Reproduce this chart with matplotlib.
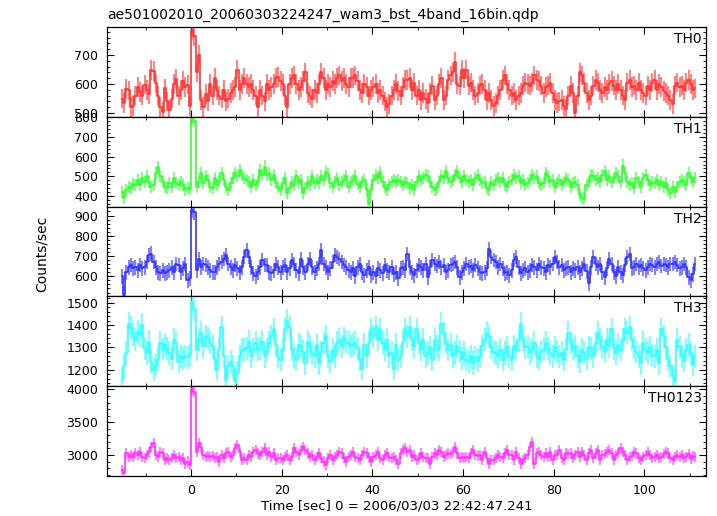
import numpy as np
import matplotlib.pyplot as plt
from matplotlib.ticker import MultipleLocator

# ==============================
# data (0.5 s bins, rate in counts/sec)
# ==============================

t_start = -15.5
bin_width = 0.5

th0 = [
    550, 535, 582, 578, 522, 525, 560, 590, 572, 560, 598, 580, 565, 648, 645, 602, 560, 520, 505, 585,
    540, 512, 550, 600, 618, 560, 580, 612, 590, 598, 525, 785, 765, 640, 700, 545, 520, 565, 540, 600,
    560, 620, 580, 560, 550, 580, 540, 550, 570, 580, 590, 650, 580, 600, 620, 600, 590, 600, 580, 560,
    520, 580, 560, 540, 600, 580, 590, 600, 620, 625, 610, 600, 560, 520, 600, 620, 630, 600, 580, 590,
    610, 640, 570, 560, 550, 580, 570, 600, 640, 620, 580, 600, 590, 610, 600, 620, 630, 610, 620, 600,
    590, 620, 620, 630, 610, 580, 570, 600, 590, 560, 580, 590, 600, 570, 580, 560, 540, 520, 530, 560,
    580, 600, 575, 560, 590, 615, 615, 620, 580, 605, 560, 580, 545, 570, 548, 535, 570, 595, 545, 560,
    600, 620, 545, 560, 615, 630, 640, 675, 600, 595, 650, 620, 650, 595, 605, 580, 560, 570, 595, 600,
    580, 545, 570, 545, 525, 535, 560, 580, 615, 630, 600, 580, 560, 570, 545, 560, 570, 595, 605, 600,
    595, 605, 630, 615, 610, 595, 570, 590, 595, 605, 570, 545, 535, 540, 545, 525, 515, 560, 595, 570,
    500, 560, 640, 630, 605, 570, 545, 560, 595, 615, 605, 580, 570, 590, 580, 600, 610, 595, 580, 600,
    580, 560, 545, 605, 615, 590, 595, 580, 605, 580, 570, 560, 595, 580, 605, 615, 580, 600, 590, 575,
    570, 560, 545, 530, 595, 605, 590, 595, 580, 605, 615, 600, 580, 585,
]

th1 = [
    420, 392, 430, 445, 440, 460, 455, 480, 455, 490, 470, 500, 470, 445, 455, 515, 548, 500, 470, 445,
    440, 465, 445, 490, 465, 455, 470, 455, 432, 440, 438, 790, 782, 445, 470, 515, 465, 500, 480, 445,
    440, 490, 455, 470, 515, 480, 445, 432, 465, 490, 515, 500, 530, 505, 490, 480, 470, 445, 480, 455,
    470, 530, 505, 550, 505, 515, 480, 505, 465, 445, 432, 465, 490, 415, 440, 470, 455, 500, 465, 480,
    415, 440, 470, 455, 500, 465, 480, 465, 500, 480, 520, 510, 465, 445, 470, 490, 455, 470, 480, 500,
    445, 470, 480, 500, 460, 445, 470, 480, 430, 360, 430, 480, 505, 490, 520, 470, 445, 430, 455, 470,
    480, 470, 480, 470, 455, 470, 465, 440, 455, 430, 470, 500, 480, 490, 505, 500, 470, 445, 430, 440,
    470, 500, 490, 525, 490, 470, 480, 505, 525, 490, 470, 500, 480, 470, 480, 455, 490, 505, 480, 465,
    470, 440, 430, 470, 455, 480, 490, 470, 490, 455, 445, 470, 480, 505, 490, 500, 465, 480, 455, 465,
    480, 505, 490, 500, 465, 455, 465, 515, 500, 470, 480, 445, 465, 480, 455, 470, 490, 480, 445, 465,
    470, 455, 405, 390, 385, 455, 470, 505, 500, 480, 490, 470, 505, 525, 480, 500, 470, 490, 515, 500,
    470, 555, 515, 470, 455, 465, 440, 490, 470, 445, 490, 505, 480, 455, 470, 465, 480, 455, 470, 445,
    465, 430, 415, 445, 420, 445, 470, 480, 470, 455, 515, 490, 470, 490,
]

th2 = [
    600, 510, 620, 645, 655, 640, 645, 630, 655, 640, 645, 670, 705, 712, 670, 645, 620, 615, 630, 615,
    620, 630, 645, 620, 660, 655, 620, 640, 660, 580, 590, 925, 915, 630, 685, 645, 660, 655, 645, 630,
    620, 620, 645, 660, 670, 685, 705, 660, 645, 630, 655, 640, 620, 645, 695, 728, 695, 645, 615, 600,
    620, 645, 680, 655, 655, 620, 615, 630, 660, 645, 620, 645, 655, 620, 640, 680, 660, 630, 615, 685,
    645, 620, 660, 685, 645, 620, 640, 660, 728, 660, 645, 620, 640, 670, 705, 695, 685, 670, 655, 645,
    630, 620, 640, 600, 645, 660, 620, 605, 630, 645, 605, 620, 600, 640, 630, 615, 655, 630, 620, 645,
    610, 620, 590, 640, 645, 630, 710, 645, 620, 605, 630, 655, 645, 630, 660, 595, 645, 680, 660, 650,
    670, 645, 655, 620, 630, 655, 660, 670, 645, 595, 620, 640, 660, 645, 650, 630, 655, 640, 620, 615,
    620, 640, 735, 695, 680, 670, 645, 660, 640, 615, 620, 605, 630, 680, 695, 645, 615, 630, 640, 620,
    630, 655, 645, 630, 660, 645, 640, 620, 655, 645, 660, 695, 670, 645, 655, 630, 640, 645, 620, 640,
    630, 645, 620, 640, 660, 625, 565, 645, 695, 660, 645, 660, 620, 595, 640, 685, 660, 620, 600, 645,
    620, 605, 655, 695, 710, 640, 645, 660, 645, 655, 640, 630, 645, 660, 655, 645, 660, 670, 650, 660,
    655, 645, 660, 660, 670, 655, 640, 645, 660, 645, 595, 580, 610, 660,
]

th3 = [
    1155, 1215, 1275, 1405, 1390, 1360, 1335, 1370, 1355, 1400, 1295, 1275, 1325, 1235, 1200, 1220, 1245, 1320, 1290, 1310,
    1295, 1275, 1250, 1335, 1320, 1235, 1260, 1250, 1260, 1255, 1265, 1505, 1470, 1290, 1335, 1365, 1305, 1350, 1340, 1320,
    1305, 1245, 1200, 1290, 1390, 1260, 1155, 1215, 1235, 1215, 1150, 1185, 1260, 1290, 1290, 1295, 1325, 1260, 1290, 1320,
    1290, 1295, 1325, 1260, 1290, 1320, 1350, 1380, 1310, 1260, 1245, 1290, 1380, 1420, 1390, 1290, 1260, 1245, 1310, 1305,
    1280, 1230, 1325, 1305, 1275, 1260, 1310, 1230, 1275, 1320, 1350, 1260, 1235, 1290, 1260, 1320, 1335, 1305, 1340, 1325,
    1320, 1305, 1310, 1320, 1295, 1245, 1205, 1310, 1260, 1320, 1380, 1350, 1390, 1335, 1380, 1320, 1290, 1335, 1260, 1275,
    1205, 1310, 1245, 1260, 1320, 1380, 1350, 1390, 1335, 1300, 1380, 1320, 1290, 1335, 1260, 1275, 1300, 1245, 1335, 1305,
    1290, 1405, 1360, 1320, 1290, 1310, 1260, 1275, 1305, 1280, 1250, 1275, 1245, 1235, 1260, 1230, 1255, 1240, 1260, 1305,
    1335, 1365, 1350, 1300, 1280, 1275, 1260, 1290, 1245, 1275, 1300, 1260, 1245, 1305, 1290, 1330, 1405, 1335, 1300, 1305,
    1275, 1290, 1320, 1260, 1250, 1280, 1290, 1320, 1295, 1275, 1260, 1300, 1280, 1260, 1275, 1245, 1290, 1365, 1320, 1290,
    1305, 1260, 1235, 1290, 1275, 1250, 1300, 1295, 1260, 1320, 1365, 1335, 1300, 1280, 1335, 1305, 1380, 1295, 1275, 1310,
    1290, 1335, 1380, 1365, 1390, 1335, 1300, 1280, 1260, 1230, 1320, 1290, 1275, 1300, 1265, 1260, 1290, 1230, 1380, 1350,
    1300, 1250, 1215, 1170, 1150, 1335, 1300, 1260, 1240, 1290, 1310, 1270, 1225, 1260,
]

th0123 = [
    2770, 2720, 3025, 2975, 3000, 2975, 3025, 3000, 3050, 2975, 2950, 3000, 3040, 3125, 3180, 3000, 2975, 3050, 3025, 2920,
    2950, 2920, 2950, 3000, 2950, 2975, 2920, 2960, 2870, 2900, 2850, 4000, 3960, 3050, 3180, 3125, 3000, 2975, 2985, 2975,
    2985, 2950, 2975, 2900, 3000, 2950, 3025, 3050, 2975, 3000, 3100, 3150, 3050, 2920, 2950, 2920, 3000, 2975, 3050, 3075,
    3025, 3000, 3050, 3100, 3000, 3050, 2975, 3025, 2920, 2950, 2950, 2920, 2975, 3000, 2920, 2975, 3100, 3050, 3000, 3075,
    3125, 3075, 3025, 2975, 3000, 2920, 2975, 3025, 2950, 2900, 2850, 2950, 3000, 2920, 2975, 3000, 3050, 3025, 2950, 2900,
    2975, 3000, 3050, 2975, 2950, 2920, 3000, 3050, 3025, 2975, 2900, 2975, 3000, 3050, 2950, 2920, 3000, 3025, 2975, 2950,
    2975, 2920, 2870, 3025, 3075, 3100, 3050, 3075, 2975, 3000, 2920, 2950, 3025, 2975, 2960, 2950, 2870, 2975, 3025, 3000,
    3075, 3050, 2975, 3000, 3025, 3010, 3050, 3125, 3025, 2950, 2975, 2960, 2975, 2950, 3025, 3075, 3000, 2980, 3000, 2920,
    3050, 2950, 2870, 2920, 2920, 2950, 3000, 2975, 2950, 3025, 3075, 3000, 3000, 2920, 3050, 2950, 2870, 2920, 2950, 3000,
    3125, 3200, 2870, 3025, 3050, 3000, 2975, 3025, 2975, 3050, 2920, 3000, 3000, 3075, 2950, 2920, 3025, 3010, 3025, 2950,
    3000, 3050, 2975, 3050, 3000, 2920, 3025, 3075, 2950, 3025, 3075, 2920, 3000, 3010, 3050, 3075, 3025, 2920, 3000, 3030,
    3100, 3050, 3000, 2920, 2975, 2990, 3050, 3025, 2950, 2920, 2975, 3000, 3050, 3000, 2960, 2975, 3000, 2950, 2975, 3010,
    3050, 3025, 2950, 2920, 2975, 3000, 2975, 3000, 2950, 2975, 3020, 2940, 2990, 2975,
]

names = ["TH0", "TH1", "TH2", "TH3", "TH0123"]
series = [th0, th1, th2, th3, th0123]
errors = [34, 31, 36, 52, 78]
colors = ["#ff3333", "#33ff33", "#3333ff", "#33ffff", "#ff33ff"]
ylims = [(487, 797), (346, 803), (501, 944), (1126, 1528), (2680, 4050)]
ymajor = [100, 100, 100, 100, 500]
yminor = [20, 20, 20, 20, 100]

# ==============================
# plot
# ==============================

fig, axes = plt.subplots(5, 1, sharex=True, figsize=(7.17, 5.16), dpi=100)
fig.subplots_adjust(left=0.1488, right=0.9847, top=0.9477, bottom=0.0775, hspace=0)

for i, ax in enumerate(axes):
    vals = np.array(series[i], dtype=float)
    t = t_start + bin_width * (np.arange(len(vals)) + 0.5)

    ax.errorbar(t, vals, yerr=errors[i], fmt='none', ecolor=colors[i],
                elinewidth=1.5, alpha=0.6, capsize=0)
    ax.step(t, vals, where='mid', color=colors[i], lw=1.2)

    ax.set_ylim(*ylims[i])
    ax.yaxis.set_major_locator(MultipleLocator(ymajor[i]))
    ax.yaxis.set_minor_locator(MultipleLocator(yminor[i]))
    ax.xaxis.set_major_locator(MultipleLocator(20))
    ax.xaxis.set_minor_locator(MultipleLocator(10))

    ax.tick_params(which='both', direction='in', top=True, right=True,
                   labelsize=9, pad=6)
    ax.tick_params(which='major', length=5, width=0.8)
    ax.tick_params(which='minor', length=2.5, width=0.6)
    for s in ax.spines.values():
        s.set_linewidth(0.9)

    ax.text(0.993, 0.945, names[i], transform=ax.transAxes,
            ha='right', va='top', fontsize=10)

axes[-1].set_xlim(-18.6, 113.6)

fig.text(0.149, 1 - 15 / 516, "ae501002010_20060303224247_wam3_bst_4band_16bin.qdp",
         ha='left', va='center', fontsize=10)
fig.text(42 / 717, 1 - 254 / 516, "Counts/sec", rotation=90,
         ha='center', va='center', fontsize=10)
fig.text(397 / 717, 1 - 506 / 516, "Time [sec] 0 = 2006/03/03 22:42:47.241",
         ha='center', va='center', fontsize=9.5)

fig.savefig("out.png", dpi=100)
